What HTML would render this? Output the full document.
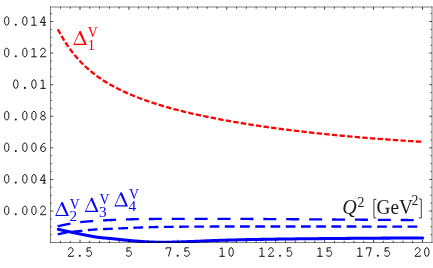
<!DOCTYPE html>
<html><head><meta charset="utf-8"><title>plot</title>
<style>html,body{margin:0;padding:0;background:#fff;overflow:hidden}body{width:433px;height:268px;position:relative}</style>
</head><body>
<svg width="433" height="268" viewBox="0 0 433 268" style="position:absolute;left:0;top:0;display:block;will-change:transform">
<rect x="0" y="0" width="433" height="268" fill="#fff"/>
<path d="M57.80,29.21 L59.02,31.49 L60.24,33.71 L61.46,35.86 L62.68,37.95 L63.90,39.97 L65.12,41.92 L66.34,43.81 L67.57,45.63 L68.79,47.40 L70.01,49.10 L71.23,50.75 L72.45,52.35 L73.67,53.90 L74.89,55.39 L76.11,56.84 L77.33,58.25 L78.55,59.61 L79.77,60.93 L80.99,62.21 L82.21,63.46 L83.43,64.67 L84.65,65.84 L85.88,66.98 L87.10,68.09 L88.32,69.17 L89.54,70.22 L90.76,71.24 L91.98,72.24 L93.20,73.21 L94.42,74.16 L95.64,75.08 L96.86,75.98 L98.08,76.86 L99.30,77.72 L100.52,78.56 L101.74,79.38 L102.96,80.18 L104.19,80.96 L105.41,81.73 L106.63,82.48 L107.85,83.22 L109.07,83.94 L110.29,84.64 L111.51,85.33 L112.73,86.01 L113.95,86.67 L115.17,87.32 L116.39,87.96 L117.61,88.59 L118.83,89.20 L120.05,89.80 L121.27,90.40 L122.50,90.98 L123.72,91.55 L124.94,92.12 L126.16,92.67 L127.38,93.21 L128.60,93.75 L129.82,94.27 L131.04,94.79 L132.26,95.30 L133.48,95.80 L134.70,96.30 L135.92,96.78 L137.14,97.26 L138.36,97.73 L139.59,98.20 L140.81,98.66 L142.03,99.11 L143.25,99.56 L144.47,100.00 L145.69,100.43 L146.91,100.86 L148.13,101.28 L149.35,101.69 L150.57,102.10 L151.79,102.51 L153.01,102.91 L154.23,103.31 L155.45,103.70 L156.67,104.08 L157.90,104.46 L159.12,104.84 L160.34,105.21 L161.56,105.58 L162.78,105.94 L164.00,106.30 L165.22,106.65 L166.44,107.00 L167.66,107.35 L168.88,107.69 L170.10,108.03 L171.32,108.37 L172.54,108.70 L173.76,109.03 L174.98,109.35 L176.21,109.67 L177.43,109.99 L178.65,110.30 L179.87,110.61 L181.09,110.92 L182.31,111.23 L183.53,111.53 L184.75,111.83 L185.97,112.12 L187.19,112.42 L188.41,112.71 L189.63,112.99 L190.85,113.28 L192.07,113.56 L193.29,113.84 L194.52,114.12 L195.74,114.39 L196.96,114.66 L198.18,114.93 L199.40,115.20 L200.62,115.46 L201.84,115.72 L203.06,115.98 L204.28,116.24 L205.50,116.50 L206.72,116.75 L207.94,117.00 L209.16,117.25 L210.38,117.50 L211.60,117.74 L212.83,117.98 L214.05,118.22 L215.27,118.46 L216.49,118.70 L217.71,118.93 L218.93,119.16 L220.15,119.39 L221.37,119.62 L222.59,119.85 L223.81,120.08 L225.03,120.30 L226.25,120.52 L227.47,120.74 L228.69,120.96 L229.91,121.18 L231.14,121.39 L232.36,121.60 L233.58,121.81 L234.80,122.02 L236.02,122.23 L237.24,122.44 L238.46,122.64 L239.68,122.85 L240.90,123.05 L242.12,123.25 L243.34,123.45 L244.56,123.65 L245.78,123.84 L247.00,124.04 L248.22,124.23 L249.45,124.42 L250.67,124.61 L251.89,124.80 L253.11,124.99 L254.33,125.18 L255.55,125.36 L256.77,125.55 L257.99,125.73 L259.21,125.91 L260.43,126.09 L261.65,126.27 L262.87,126.45 L264.09,126.62 L265.31,126.80 L266.53,126.97 L267.76,127.14 L268.98,127.32 L270.20,127.49 L271.42,127.66 L272.64,127.82 L273.86,127.99 L275.08,128.16 L276.30,128.32 L277.52,128.48 L278.74,128.65 L279.96,128.81 L281.18,128.97 L282.40,129.13 L283.62,129.28 L284.84,129.44 L286.07,129.60 L287.29,129.75 L288.51,129.91 L289.73,130.06 L290.95,130.21 L292.17,130.36 L293.39,130.51 L294.61,130.66 L295.83,130.81 L297.05,130.95 L298.27,131.10 L299.49,131.24 L300.71,131.39 L301.93,131.53 L303.16,131.67 L304.38,131.81 L305.60,131.95 L306.82,132.09 L308.04,132.23 L309.26,132.37 L310.48,132.50 L311.70,132.64 L312.92,132.77 L314.14,132.91 L315.36,133.04 L316.58,133.17 L317.80,133.30 L319.02,133.43 L320.24,133.56 L321.47,133.69 L322.69,133.82 L323.91,133.95 L325.13,134.07 L326.35,134.20 L327.57,134.32 L328.79,134.45 L330.01,134.57 L331.23,134.69 L332.45,134.81 L333.67,134.93 L334.89,135.05 L336.11,135.17 L337.33,135.29 L338.55,135.41 L339.78,135.53 L341.00,135.64 L342.22,135.76 L343.44,135.87 L344.66,135.98 L345.88,136.10 L347.10,136.21 L348.32,136.32 L349.54,136.43 L350.76,136.54 L351.98,136.65 L353.20,136.76 L354.42,136.87 L355.64,136.97 L356.86,137.08 L358.09,137.19 L359.31,137.29 L360.53,137.39 L361.75,137.50 L362.97,137.60 L364.19,137.70 L365.41,137.80 L366.63,137.91 L367.85,138.01 L369.07,138.11 L370.29,138.20 L371.51,138.30 L372.73,138.40 L373.95,138.50 L375.17,138.59 L376.40,138.69 L377.62,138.78 L378.84,138.88 L380.06,138.97 L381.28,139.06 L382.50,139.16 L383.72,139.25 L384.94,139.34 L386.16,139.43 L387.38,139.52 L388.60,139.61 L389.82,139.70 L391.04,139.79 L392.26,139.87 L393.48,139.96 L394.71,140.05 L395.93,140.13 L397.15,140.22 L398.37,140.30 L399.59,140.39 L400.81,140.47 L402.03,140.55 L403.25,140.63 L404.47,140.71 L405.69,140.80 L406.91,140.88 L408.13,140.96 L409.35,141.03 L410.57,141.11 L411.79,141.19 L413.02,141.27 L414.24,141.35 L415.46,141.42 L416.68,141.50 L417.90,141.57 L419.12,141.65 L420.34,141.72 L421.56,141.80 L422.78,141.87" fill="none" stroke="#ff0000" stroke-width="2.3" stroke-dasharray="5.4 2.25"/>
<path d="M57.70,226.30 L57.86,226.26 L58.04,226.22 L58.25,226.18 L58.47,226.12 L58.72,226.07 L58.99,226.01 L59.27,225.94 L59.56,225.87 L59.87,225.80 L60.18,225.73 L60.51,225.66 L60.84,225.58 L61.17,225.51 L61.51,225.43 L61.85,225.36 L62.19,225.28 L62.53,225.21 L62.86,225.14 L63.18,225.07 L63.50,225.00 L63.81,224.94 L64.12,224.87 L64.43,224.81 L64.74,224.74 L65.05,224.68 L65.36,224.62 L65.67,224.55 L65.98,224.49 L66.30,224.43 L66.62,224.36 L66.94,224.30 L67.28,224.23 L67.61,224.17 L67.96,224.10 L68.31,224.04 L68.67,223.97 L69.03,223.91 L69.41,223.84 L69.80,223.77 L70.20,223.70 L70.61,223.63 L71.02,223.56 L71.43,223.48 L71.86,223.41 L72.28,223.33 L72.72,223.26 L73.15,223.18 L73.60,223.10 L74.06,223.02 L74.52,222.94 L74.99,222.87 L75.47,222.79 L75.96,222.71 L76.46,222.63 L76.97,222.56 L77.49,222.48 L78.03,222.41 L78.57,222.34 L79.13,222.27 L79.70,222.20 L80.29,222.13 L80.88,222.07 L81.50,222.00 L82.12,221.94 L82.76,221.87 L83.41,221.81 L84.07,221.75 L84.74,221.68 L85.42,221.62 L86.11,221.56 L86.81,221.50 L87.51,221.44 L88.22,221.39 L88.94,221.33 L89.66,221.27 L90.38,221.22 L91.11,221.16 L91.84,221.11 L92.57,221.05 L93.30,221.00 L94.03,220.95 L94.76,220.90 L95.49,220.85 L96.22,220.80 L96.95,220.75 L97.69,220.70 L98.43,220.66 L99.17,220.61 L99.93,220.57 L100.69,220.53 L101.46,220.48 L102.24,220.44 L103.03,220.40 L103.83,220.35 L104.65,220.31 L105.49,220.27 L106.34,220.23 L107.21,220.18 L108.09,220.14 L109.00,220.10 L109.93,220.06 L110.87,220.01 L111.82,219.97 L112.80,219.93 L113.78,219.88 L114.78,219.84 L115.80,219.79 L116.83,219.75 L117.87,219.71 L118.92,219.67 L119.98,219.62 L121.06,219.58 L122.14,219.54 L123.24,219.50 L124.34,219.47 L125.46,219.43 L126.58,219.39 L127.71,219.36 L128.85,219.33 L130.00,219.30 L131.14,219.27 L132.25,219.25 L133.34,219.22 L134.42,219.20 L135.50,219.17 L136.58,219.15 L137.66,219.13 L138.75,219.11 L139.86,219.10 L141.00,219.08 L142.17,219.06 L143.37,219.05 L144.61,219.03 L145.90,219.02 L147.25,219.01 L148.66,218.99 L150.13,218.98 L151.67,218.97 L153.29,218.96 L155.00,218.95 L156.81,218.94 L158.74,218.93 L160.76,218.93 L162.88,218.92 L165.08,218.92 L167.34,218.91 L169.67,218.91 L172.04,218.91 L174.45,218.90 L176.88,218.90 L179.32,218.90 L181.76,218.90 L184.19,218.90 L186.60,218.90 L188.98,218.90 L191.32,218.90 L193.60,218.90 L195.81,218.90 L197.95,218.90 L200.00,218.90 L201.97,218.90 L203.88,218.90 L205.74,218.90 L207.56,218.89 L209.34,218.89 L211.08,218.89 L212.79,218.89 L214.48,218.89 L216.15,218.89 L217.81,218.88 L219.47,218.88 L221.12,218.88 L222.78,218.88 L224.45,218.88 L226.13,218.88 L227.84,218.89 L229.57,218.89 L231.34,218.89 L233.15,218.90 L235.00,218.90 L236.89,218.91 L238.80,218.91 L240.73,218.92 L242.68,218.93 L244.65,218.93 L246.63,218.94 L248.63,218.95 L250.64,218.96 L252.66,218.97 L254.69,218.98 L256.72,218.99 L258.76,219.00 L260.80,219.01 L262.84,219.03 L264.88,219.04 L266.92,219.05 L268.95,219.06 L270.98,219.08 L272.99,219.09 L275.00,219.10 L276.99,219.11 L278.98,219.13 L280.95,219.14 L282.92,219.15 L284.88,219.17 L286.84,219.18 L288.80,219.20 L290.76,219.21 L292.72,219.23 L294.69,219.24 L296.66,219.26 L298.64,219.28 L300.63,219.29 L302.63,219.31 L304.65,219.32 L306.68,219.34 L308.73,219.35 L310.80,219.37 L312.89,219.38 L315.00,219.40 L317.14,219.41 L319.32,219.43 L321.53,219.44 L323.76,219.46 L326.02,219.47 L328.29,219.49 L330.58,219.50 L332.88,219.52 L335.19,219.53 L337.50,219.55 L339.81,219.56 L342.12,219.58 L344.42,219.60 L346.71,219.61 L348.98,219.63 L351.24,219.64 L353.47,219.66 L355.68,219.67 L357.86,219.69 L360.00,219.70 L362.13,219.72 L364.28,219.73 L366.43,219.75 L368.59,219.76 L370.75,219.78 L372.90,219.80 L375.05,219.81 L377.18,219.83 L379.29,219.85 L381.38,219.86 L383.44,219.88 L385.46,219.89 L387.46,219.91 L389.41,219.92 L391.31,219.94 L393.17,219.95 L394.97,219.97 L396.71,219.98 L398.39,219.99 L400.00,220.00 L401.56,220.01 L403.09,220.02 L404.59,220.03 L406.06,220.03 L407.48,220.04 L408.87,220.05 L410.22,220.05 L411.53,220.06 L412.79,220.06 L414.00,220.07 L415.16,220.07 L416.27,220.08 L417.33,220.08 L418.33,220.08 L419.27,220.09 L420.14,220.09 L420.96,220.09 L421.71,220.09 L422.39,220.10 L423.00,220.10" fill="none" stroke="#0000ff" stroke-width="2.35" stroke-dasharray="13 9.9"/>
<path d="M57.70,234.30 L57.93,234.25 L58.20,234.20 L58.51,234.13 L58.85,234.06 L59.23,233.98 L59.63,233.89 L60.05,233.80 L60.49,233.70 L60.95,233.61 L61.43,233.51 L61.90,233.41 L62.39,233.30 L62.88,233.20 L63.36,233.10 L63.84,233.01 L64.30,232.92 L64.76,232.83 L65.19,232.75 L65.61,232.67 L66.00,232.60 L66.37,232.54 L66.73,232.48 L67.08,232.42 L67.42,232.37 L67.76,232.32 L68.08,232.27 L68.41,232.22 L68.73,232.18 L69.05,232.14 L69.36,232.10 L69.68,232.06 L70.00,232.02 L70.32,231.98 L70.65,231.94 L70.99,231.90 L71.33,231.86 L71.68,231.82 L72.04,231.78 L72.41,231.74 L72.80,231.70 L73.20,231.66 L73.62,231.61 L74.05,231.57 L74.49,231.53 L74.94,231.48 L75.40,231.44 L75.86,231.39 L76.33,231.35 L76.81,231.31 L77.28,231.27 L77.76,231.22 L78.23,231.18 L78.69,231.14 L79.15,231.10 L79.61,231.05 L80.05,231.01 L80.49,230.97 L80.91,230.93 L81.31,230.89 L81.70,230.85 L82.07,230.81 L82.43,230.77 L82.77,230.73 L83.10,230.69 L83.42,230.65 L83.73,230.61 L84.03,230.58 L84.33,230.54 L84.62,230.50 L84.91,230.46 L85.19,230.43 L85.48,230.39 L85.77,230.35 L86.07,230.31 L86.37,230.28 L86.67,230.24 L86.99,230.21 L87.31,230.17 L87.65,230.14 L88.00,230.10 L88.36,230.07 L88.71,230.03 L89.07,230.00 L89.43,229.96 L89.79,229.93 L90.15,229.89 L90.52,229.86 L90.89,229.83 L91.26,229.80 L91.64,229.76 L92.03,229.73 L92.43,229.70 L92.84,229.67 L93.25,229.63 L93.68,229.60 L94.12,229.57 L94.57,229.54 L95.03,229.51 L95.51,229.48 L96.00,229.45 L96.51,229.42 L97.02,229.39 L97.55,229.36 L98.10,229.34 L98.65,229.31 L99.21,229.28 L99.78,229.25 L100.37,229.23 L100.96,229.20 L101.56,229.17 L102.17,229.15 L102.79,229.12 L103.42,229.10 L104.05,229.07 L104.70,229.04 L105.34,229.01 L106.00,228.99 L106.66,228.96 L107.33,228.93 L108.00,228.90 L108.69,228.87 L109.40,228.84 L110.13,228.81 L110.87,228.77 L111.63,228.74 L112.41,228.71 L113.19,228.67 L113.98,228.64 L114.77,228.61 L115.56,228.57 L116.36,228.54 L117.14,228.50 L117.93,228.47 L118.70,228.44 L119.46,228.40 L120.21,228.37 L120.94,228.34 L121.65,228.31 L122.34,228.28 L123.00,228.25 L123.63,228.22 L124.23,228.19 L124.79,228.17 L125.33,228.14 L125.84,228.12 L126.34,228.09 L126.83,228.07 L127.30,228.05 L127.78,228.02 L128.25,228.00 L128.73,227.98 L129.22,227.95 L129.72,227.93 L130.24,227.91 L130.78,227.88 L131.35,227.86 L131.95,227.83 L132.59,227.81 L133.27,227.78 L134.00,227.75 L134.78,227.72 L135.60,227.69 L136.47,227.66 L137.38,227.62 L138.33,227.59 L139.30,227.55 L140.30,227.52 L141.31,227.48 L142.34,227.45 L143.38,227.41 L144.41,227.37 L145.45,227.34 L146.48,227.30 L147.49,227.27 L148.48,227.24 L149.46,227.21 L150.40,227.18 L151.31,227.15 L152.18,227.12 L153.00,227.10 L153.76,227.08 L154.45,227.06 L155.07,227.04 L155.65,227.02 L156.18,227.01 L156.68,227.00 L157.16,226.98 L157.62,226.97 L158.09,226.96 L158.56,226.95 L159.05,226.94 L159.58,226.93 L160.14,226.92 L160.75,226.91 L161.41,226.90 L162.15,226.89 L162.97,226.88 L163.88,226.87 L164.88,226.86 L166.00,226.85 L167.23,226.84 L168.55,226.82 L169.95,226.81 L171.44,226.80 L173.00,226.78 L174.62,226.77 L176.31,226.76 L178.04,226.74 L179.81,226.73 L181.62,226.72 L183.46,226.70 L185.32,226.69 L187.19,226.68 L189.06,226.66 L190.94,226.65 L192.80,226.64 L194.64,226.63 L196.47,226.62 L198.25,226.61 L200.00,226.60 L201.67,226.59 L203.26,226.58 L204.77,226.58 L206.22,226.57 L207.62,226.56 L209.01,226.56 L210.38,226.55 L211.77,226.54 L213.18,226.54 L214.62,226.53 L216.13,226.53 L217.71,226.53 L219.38,226.52 L221.16,226.52 L223.06,226.51 L225.10,226.51 L227.30,226.51 L229.67,226.51 L232.23,226.50 L235.00,226.50 L237.98,226.50 L241.16,226.50 L244.51,226.49 L248.04,226.49 L251.72,226.49 L255.53,226.49 L259.47,226.49 L263.52,226.49 L267.66,226.49 L271.88,226.49 L276.15,226.49 L280.48,226.49 L284.84,226.49 L289.21,226.49 L293.59,226.49 L297.96,226.49 L302.30,226.49 L306.60,226.50 L310.83,226.50 L315.00,226.50 L319.21,226.50 L323.58,226.51 L328.08,226.51 L332.68,226.52 L337.37,226.52 L342.10,226.53 L346.87,226.53 L351.64,226.54 L356.40,226.54 L361.10,226.55 L365.73,226.56 L370.27,226.56 L374.68,226.57 L378.94,226.57 L383.03,226.58 L386.93,226.58 L390.59,226.59 L394.01,226.59 L397.16,226.60 L400.00,226.60 L402.56,226.60 L404.88,226.60 L406.97,226.61 L408.84,226.61 L410.53,226.61 L412.03,226.61 L413.36,226.61 L414.54,226.61 L415.59,226.61 L416.51,226.61 L417.33,226.61 L418.06,226.60 L418.71,226.60 L419.30,226.60 L419.84,226.60 L420.36,226.60 L420.85,226.60 L421.35,226.60 L421.86,226.60 L422.40,226.60" fill="none" stroke="#0000ff" stroke-width="2.35" stroke-dasharray="9.7 5.53"/>
<clipPath id="cp"><rect x="0" y="0" width="433" height="243.1"/></clipPath>
<path d="M58.30,229.30 L58.48,229.34 L58.69,229.39 L58.93,229.45 L59.19,229.51 L59.48,229.58 L59.78,229.65 L60.11,229.72 L60.44,229.80 L60.80,229.89 L61.16,229.97 L61.54,230.06 L61.92,230.15 L62.31,230.24 L62.70,230.33 L63.09,230.42 L63.48,230.51 L63.87,230.60 L64.26,230.68 L64.63,230.77 L65.00,230.85 L65.36,230.93 L65.71,231.01 L66.05,231.08 L66.39,231.16 L66.73,231.23 L67.07,231.30 L67.41,231.37 L67.75,231.45 L68.10,231.52 L68.46,231.60 L68.82,231.67 L69.20,231.75 L69.58,231.83 L69.98,231.92 L70.40,232.00 L70.84,232.09 L71.29,232.19 L71.77,232.29 L72.27,232.39 L72.80,232.50 L73.36,232.62 L73.97,232.74 L74.61,232.87 L75.28,233.01 L75.98,233.15 L76.70,233.30 L77.44,233.45 L78.20,233.60 L78.96,233.76 L79.72,233.92 L80.49,234.07 L81.25,234.23 L82.00,234.38 L82.74,234.53 L83.46,234.67 L84.15,234.81 L84.82,234.94 L85.45,235.07 L86.05,235.19 L86.60,235.30 L87.12,235.40 L87.60,235.50 L88.07,235.59 L88.50,235.68 L88.92,235.76 L89.32,235.84 L89.70,235.91 L90.06,235.98 L90.42,236.05 L90.76,236.12 L91.09,236.18 L91.41,236.24 L91.73,236.30 L92.05,236.36 L92.36,236.42 L92.68,236.47 L93.00,236.53 L93.33,236.59 L93.66,236.64 L94.00,236.70 L94.34,236.76 L94.66,236.81 L94.97,236.86 L95.27,236.91 L95.56,236.96 L95.84,237.00 L96.12,237.04 L96.40,237.09 L96.68,237.13 L96.96,237.17 L97.25,237.21 L97.55,237.25 L97.85,237.29 L98.17,237.33 L98.51,237.37 L98.86,237.42 L99.24,237.46 L99.63,237.50 L100.05,237.55 L100.50,237.60 L100.98,237.65 L101.49,237.70 L102.03,237.76 L102.59,237.81 L103.18,237.86 L103.78,237.92 L104.40,237.97 L105.04,238.03 L105.68,238.09 L106.33,238.14 L106.98,238.20 L107.64,238.26 L108.29,238.31 L108.93,238.37 L109.57,238.43 L110.19,238.48 L110.80,238.54 L111.39,238.59 L111.96,238.65 L112.50,238.70 L113.02,238.75 L113.52,238.80 L114.00,238.85 L114.47,238.90 L114.92,238.95 L115.37,239.00 L115.80,239.05 L116.23,239.10 L116.66,239.15 L117.08,239.19 L117.50,239.24 L117.93,239.29 L118.36,239.34 L118.80,239.39 L119.25,239.44 L119.71,239.49 L120.18,239.54 L120.67,239.59 L121.17,239.65 L121.70,239.70 L122.25,239.76 L122.81,239.81 L123.39,239.87 L123.98,239.93 L124.59,240.00 L125.20,240.06 L125.83,240.12 L126.46,240.18 L127.10,240.25 L127.74,240.31 L128.38,240.38 L129.02,240.44 L129.67,240.50 L130.31,240.56 L130.94,240.62 L131.57,240.68 L132.20,240.74 L132.81,240.80 L133.41,240.85 L134.00,240.90 L134.58,240.95 L135.15,241.00 L135.71,241.04 L136.27,241.09 L136.82,241.14 L137.36,241.18 L137.91,241.22 L138.45,241.26 L138.98,241.30 L139.52,241.34 L140.05,241.38 L140.59,241.42 L141.13,241.46 L141.67,241.49 L142.21,241.53 L142.76,241.57 L143.31,241.60 L143.87,241.63 L144.43,241.67 L145.00,241.70 L145.57,241.73 L146.14,241.76 L146.70,241.80 L147.26,241.83 L147.81,241.86 L148.37,241.89 L148.93,241.92 L149.49,241.95 L150.05,241.98 L150.62,242.01 L151.20,242.03 L151.79,242.06 L152.39,242.08 L153.00,242.10 L153.62,242.12 L154.26,242.14 L154.92,242.16 L155.59,242.18 L156.29,242.19 L157.00,242.20 L157.73,242.21 L158.48,242.22 L159.25,242.22 L160.03,242.23 L160.83,242.23 L161.64,242.23 L162.46,242.23 L163.30,242.23 L164.14,242.23 L165.00,242.22 L165.87,242.22 L166.74,242.21 L167.63,242.20 L168.52,242.19 L169.42,242.18 L170.33,242.17 L171.24,242.15 L172.16,242.14 L173.08,242.12 L174.00,242.10 L174.93,242.08 L175.88,242.05 L176.84,242.03 L177.81,242.00 L178.79,241.97 L179.78,241.94 L180.78,241.91 L181.78,241.87 L182.80,241.83 L183.81,241.80 L184.83,241.76 L185.86,241.72 L186.88,241.68 L187.91,241.64 L188.93,241.60 L189.95,241.56 L190.97,241.52 L191.99,241.48 L193.00,241.44 L194.00,241.40 L195.00,241.36 L196.00,241.32 L197.00,241.28 L198.00,241.24 L199.00,241.19 L200.00,241.15 L201.00,241.10 L202.00,241.06 L203.00,241.01 L204.00,240.97 L205.00,240.92 L206.00,240.88 L207.00,240.83 L208.00,240.79 L209.00,240.75 L210.00,240.71 L211.00,240.67 L212.00,240.63 L213.00,240.59 L214.00,240.55 L215.00,240.51 L216.00,240.48 L217.00,240.45 L218.00,240.41 L219.00,240.38 L220.00,240.35 L221.00,240.32 L222.00,240.28 L223.00,240.25 L224.00,240.22 L225.00,240.20 L226.00,240.17 L227.00,240.14 L228.00,240.11 L229.00,240.08 L230.00,240.06 L231.00,240.03 L232.00,240.00 L233.00,239.98 L234.00,239.95 L234.98,239.92 L235.91,239.90 L236.81,239.88 L237.68,239.85 L238.53,239.83 L239.37,239.81 L240.20,239.79 L241.04,239.77 L241.89,239.75 L242.75,239.72 L243.64,239.70 L244.56,239.68 L245.52,239.66 L246.53,239.64 L247.59,239.62 L248.72,239.60 L249.92,239.57 L251.19,239.55 L252.55,239.53 L254.00,239.50 L255.55,239.47 L257.19,239.45 L258.92,239.42 L260.72,239.39 L262.59,239.36 L264.53,239.32 L266.52,239.29 L268.56,239.26 L270.64,239.23 L272.75,239.20 L274.89,239.16 L277.04,239.13 L279.20,239.10 L281.37,239.07 L283.53,239.04 L285.68,239.01 L287.81,238.98 L289.91,238.95 L291.98,238.93 L294.00,238.90 L295.99,238.88 L297.97,238.85 L299.94,238.83 L301.90,238.81 L303.86,238.78 L305.81,238.76 L307.76,238.74 L309.71,238.72 L311.67,238.70 L313.62,238.68 L315.59,238.67 L317.57,238.65 L319.56,238.63 L321.56,238.61 L323.58,238.59 L325.62,238.57 L327.67,238.56 L329.76,238.54 L331.86,238.52 L334.00,238.50 L336.17,238.48 L338.37,238.46 L340.61,238.44 L342.87,238.42 L345.16,238.41 L347.47,238.39 L349.79,238.37 L352.13,238.35 L354.48,238.33 L356.84,238.31 L359.20,238.29 L361.56,238.28 L363.91,238.26 L366.26,238.24 L368.60,238.23 L370.92,238.21 L373.23,238.19 L375.51,238.18 L377.77,238.16 L380.00,238.15 L382.26,238.14 L384.59,238.12 L386.98,238.11 L389.42,238.10 L391.89,238.08 L394.37,238.07 L396.86,238.06 L399.33,238.05 L401.77,238.04 L404.18,238.03 L406.52,238.02 L408.79,238.01 L410.98,238.00 L413.06,237.99 L415.03,237.98 L416.86,237.97 L418.55,237.97 L420.08,237.96 L421.44,237.96 L422.60,237.95" fill="none" stroke="#0000ff" stroke-width="3.05" stroke-linecap="round" clip-path="url(#cp)"/>
<g stroke="#000" stroke-width="0.5" fill="none">
<line x1="50.5" y1="6.5" x2="50.5" y2="243.0"/>
<line x1="432.0" y1="6.5" x2="432.0" y2="243.0"/>
<line x1="50.0" y1="7.0" x2="432.5" y2="7.0"/>
<line x1="50.0" y1="242.5" x2="432.5" y2="242.5"/>
</g>
<g stroke="#000" stroke-width="0.75" fill="none">
<line x1="60.43" y1="242.5" x2="60.43" y2="240.80"/>
<line x1="60.43" y1="7.0" x2="60.43" y2="8.70"/>
<line x1="70.22" y1="242.5" x2="70.22" y2="240.80"/>
<line x1="70.22" y1="7.0" x2="70.22" y2="8.70"/>
<line x1="80.00" y1="242.5" x2="80.00" y2="239.70"/>
<line x1="80.00" y1="7.0" x2="80.00" y2="9.80"/>
<line x1="89.78" y1="242.5" x2="89.78" y2="240.80"/>
<line x1="89.78" y1="7.0" x2="89.78" y2="8.70"/>
<line x1="99.57" y1="242.5" x2="99.57" y2="240.80"/>
<line x1="99.57" y1="7.0" x2="99.57" y2="8.70"/>
<line x1="109.36" y1="242.5" x2="109.36" y2="240.80"/>
<line x1="109.36" y1="7.0" x2="109.36" y2="8.70"/>
<line x1="119.14" y1="242.5" x2="119.14" y2="240.80"/>
<line x1="119.14" y1="7.0" x2="119.14" y2="8.70"/>
<line x1="128.93" y1="242.5" x2="128.93" y2="239.70"/>
<line x1="128.93" y1="7.0" x2="128.93" y2="9.80"/>
<line x1="138.71" y1="242.5" x2="138.71" y2="240.80"/>
<line x1="138.71" y1="7.0" x2="138.71" y2="8.70"/>
<line x1="148.50" y1="242.5" x2="148.50" y2="240.80"/>
<line x1="148.50" y1="7.0" x2="148.50" y2="8.70"/>
<line x1="158.28" y1="242.5" x2="158.28" y2="240.80"/>
<line x1="158.28" y1="7.0" x2="158.28" y2="8.70"/>
<line x1="168.06" y1="242.5" x2="168.06" y2="240.80"/>
<line x1="168.06" y1="7.0" x2="168.06" y2="8.70"/>
<line x1="177.85" y1="242.5" x2="177.85" y2="239.70"/>
<line x1="177.85" y1="7.0" x2="177.85" y2="9.80"/>
<line x1="187.63" y1="242.5" x2="187.63" y2="240.80"/>
<line x1="187.63" y1="7.0" x2="187.63" y2="8.70"/>
<line x1="197.42" y1="242.5" x2="197.42" y2="240.80"/>
<line x1="197.42" y1="7.0" x2="197.42" y2="8.70"/>
<line x1="207.20" y1="242.5" x2="207.20" y2="240.80"/>
<line x1="207.20" y1="7.0" x2="207.20" y2="8.70"/>
<line x1="216.99" y1="242.5" x2="216.99" y2="240.80"/>
<line x1="216.99" y1="7.0" x2="216.99" y2="8.70"/>
<line x1="226.78" y1="242.5" x2="226.78" y2="239.70"/>
<line x1="226.78" y1="7.0" x2="226.78" y2="9.80"/>
<line x1="236.56" y1="242.5" x2="236.56" y2="240.80"/>
<line x1="236.56" y1="7.0" x2="236.56" y2="8.70"/>
<line x1="246.34" y1="242.5" x2="246.34" y2="240.80"/>
<line x1="246.34" y1="7.0" x2="246.34" y2="8.70"/>
<line x1="256.13" y1="242.5" x2="256.13" y2="240.80"/>
<line x1="256.13" y1="7.0" x2="256.13" y2="8.70"/>
<line x1="265.91" y1="242.5" x2="265.91" y2="240.80"/>
<line x1="265.91" y1="7.0" x2="265.91" y2="8.70"/>
<line x1="275.70" y1="242.5" x2="275.70" y2="239.70"/>
<line x1="275.70" y1="7.0" x2="275.70" y2="9.80"/>
<line x1="285.49" y1="242.5" x2="285.49" y2="240.80"/>
<line x1="285.49" y1="7.0" x2="285.49" y2="8.70"/>
<line x1="295.27" y1="242.5" x2="295.27" y2="240.80"/>
<line x1="295.27" y1="7.0" x2="295.27" y2="8.70"/>
<line x1="305.06" y1="242.5" x2="305.06" y2="240.80"/>
<line x1="305.06" y1="7.0" x2="305.06" y2="8.70"/>
<line x1="314.84" y1="242.5" x2="314.84" y2="240.80"/>
<line x1="314.84" y1="7.0" x2="314.84" y2="8.70"/>
<line x1="324.62" y1="242.5" x2="324.62" y2="239.70"/>
<line x1="324.62" y1="7.0" x2="324.62" y2="9.80"/>
<line x1="334.41" y1="242.5" x2="334.41" y2="240.80"/>
<line x1="334.41" y1="7.0" x2="334.41" y2="8.70"/>
<line x1="344.19" y1="242.5" x2="344.19" y2="240.80"/>
<line x1="344.19" y1="7.0" x2="344.19" y2="8.70"/>
<line x1="353.98" y1="242.5" x2="353.98" y2="240.80"/>
<line x1="353.98" y1="7.0" x2="353.98" y2="8.70"/>
<line x1="363.76" y1="242.5" x2="363.76" y2="240.80"/>
<line x1="363.76" y1="7.0" x2="363.76" y2="8.70"/>
<line x1="373.55" y1="242.5" x2="373.55" y2="239.70"/>
<line x1="373.55" y1="7.0" x2="373.55" y2="9.80"/>
<line x1="383.33" y1="242.5" x2="383.33" y2="240.80"/>
<line x1="383.33" y1="7.0" x2="383.33" y2="8.70"/>
<line x1="393.12" y1="242.5" x2="393.12" y2="240.80"/>
<line x1="393.12" y1="7.0" x2="393.12" y2="8.70"/>
<line x1="402.91" y1="242.5" x2="402.91" y2="240.80"/>
<line x1="402.91" y1="7.0" x2="402.91" y2="8.70"/>
<line x1="412.69" y1="242.5" x2="412.69" y2="240.80"/>
<line x1="412.69" y1="7.0" x2="412.69" y2="8.70"/>
<line x1="422.48" y1="242.5" x2="422.48" y2="239.70"/>
<line x1="422.48" y1="7.0" x2="422.48" y2="9.80"/>
<line x1="50.5" y1="234.69" x2="52.20" y2="234.69" stroke-width="0.55"/>
<line x1="432.0" y1="234.69" x2="430.30" y2="234.69" stroke-width="0.55"/>
<line x1="50.5" y1="226.79" x2="52.20" y2="226.79" stroke-width="0.55"/>
<line x1="432.0" y1="226.79" x2="430.30" y2="226.79" stroke-width="0.55"/>
<line x1="50.5" y1="218.90" x2="52.20" y2="218.90" stroke-width="0.55"/>
<line x1="432.0" y1="218.90" x2="430.30" y2="218.90" stroke-width="0.55"/>
<line x1="50.5" y1="211.00" x2="53.30" y2="211.00" stroke-width="0.7"/>
<line x1="432.0" y1="211.00" x2="429.20" y2="211.00" stroke-width="0.7"/>
<line x1="50.5" y1="203.10" x2="52.20" y2="203.10" stroke-width="0.55"/>
<line x1="432.0" y1="203.10" x2="430.30" y2="203.10" stroke-width="0.55"/>
<line x1="50.5" y1="195.21" x2="52.20" y2="195.21" stroke-width="0.55"/>
<line x1="432.0" y1="195.21" x2="430.30" y2="195.21" stroke-width="0.55"/>
<line x1="50.5" y1="187.31" x2="52.20" y2="187.31" stroke-width="0.55"/>
<line x1="432.0" y1="187.31" x2="430.30" y2="187.31" stroke-width="0.55"/>
<line x1="50.5" y1="179.42" x2="53.30" y2="179.42" stroke-width="0.7"/>
<line x1="432.0" y1="179.42" x2="429.20" y2="179.42" stroke-width="0.7"/>
<line x1="50.5" y1="171.53" x2="52.20" y2="171.53" stroke-width="0.55"/>
<line x1="432.0" y1="171.53" x2="430.30" y2="171.53" stroke-width="0.55"/>
<line x1="50.5" y1="163.63" x2="52.20" y2="163.63" stroke-width="0.55"/>
<line x1="432.0" y1="163.63" x2="430.30" y2="163.63" stroke-width="0.55"/>
<line x1="50.5" y1="155.74" x2="52.20" y2="155.74" stroke-width="0.55"/>
<line x1="432.0" y1="155.74" x2="430.30" y2="155.74" stroke-width="0.55"/>
<line x1="50.5" y1="147.84" x2="53.30" y2="147.84" stroke-width="0.7"/>
<line x1="432.0" y1="147.84" x2="429.20" y2="147.84" stroke-width="0.7"/>
<line x1="50.5" y1="139.94" x2="52.20" y2="139.94" stroke-width="0.55"/>
<line x1="432.0" y1="139.94" x2="430.30" y2="139.94" stroke-width="0.55"/>
<line x1="50.5" y1="132.05" x2="52.20" y2="132.05" stroke-width="0.55"/>
<line x1="432.0" y1="132.05" x2="430.30" y2="132.05" stroke-width="0.55"/>
<line x1="50.5" y1="124.16" x2="52.20" y2="124.16" stroke-width="0.55"/>
<line x1="432.0" y1="124.16" x2="430.30" y2="124.16" stroke-width="0.55"/>
<line x1="50.5" y1="116.26" x2="53.30" y2="116.26" stroke-width="0.7"/>
<line x1="432.0" y1="116.26" x2="429.20" y2="116.26" stroke-width="0.7"/>
<line x1="50.5" y1="108.37" x2="52.20" y2="108.37" stroke-width="0.55"/>
<line x1="432.0" y1="108.37" x2="430.30" y2="108.37" stroke-width="0.55"/>
<line x1="50.5" y1="100.47" x2="52.20" y2="100.47" stroke-width="0.55"/>
<line x1="432.0" y1="100.47" x2="430.30" y2="100.47" stroke-width="0.55"/>
<line x1="50.5" y1="92.58" x2="52.20" y2="92.58" stroke-width="0.55"/>
<line x1="432.0" y1="92.58" x2="430.30" y2="92.58" stroke-width="0.55"/>
<line x1="50.5" y1="84.68" x2="53.30" y2="84.68" stroke-width="0.7"/>
<line x1="432.0" y1="84.68" x2="429.20" y2="84.68" stroke-width="0.7"/>
<line x1="50.5" y1="76.78" x2="52.20" y2="76.78" stroke-width="0.55"/>
<line x1="432.0" y1="76.78" x2="430.30" y2="76.78" stroke-width="0.55"/>
<line x1="50.5" y1="68.89" x2="52.20" y2="68.89" stroke-width="0.55"/>
<line x1="432.0" y1="68.89" x2="430.30" y2="68.89" stroke-width="0.55"/>
<line x1="50.5" y1="61.00" x2="52.20" y2="61.00" stroke-width="0.55"/>
<line x1="432.0" y1="61.00" x2="430.30" y2="61.00" stroke-width="0.55"/>
<line x1="50.5" y1="53.10" x2="53.30" y2="53.10" stroke-width="0.7"/>
<line x1="432.0" y1="53.10" x2="429.20" y2="53.10" stroke-width="0.7"/>
<line x1="50.5" y1="45.21" x2="52.20" y2="45.21" stroke-width="0.55"/>
<line x1="432.0" y1="45.21" x2="430.30" y2="45.21" stroke-width="0.55"/>
<line x1="50.5" y1="37.31" x2="52.20" y2="37.31" stroke-width="0.55"/>
<line x1="432.0" y1="37.31" x2="430.30" y2="37.31" stroke-width="0.55"/>
<line x1="50.5" y1="29.42" x2="52.20" y2="29.42" stroke-width="0.55"/>
<line x1="432.0" y1="29.42" x2="430.30" y2="29.42" stroke-width="0.55"/>
<line x1="50.5" y1="21.52" x2="53.30" y2="21.52" stroke-width="0.7"/>
<line x1="432.0" y1="21.52" x2="429.20" y2="21.52" stroke-width="0.7"/>
<line x1="50.5" y1="13.62" x2="52.20" y2="13.62" stroke-width="0.55"/>
<line x1="432.0" y1="13.62" x2="430.30" y2="13.62" stroke-width="0.55"/>
</g>
<g fill="none" stroke="#111" stroke-width="1" stroke-linejoin="round" stroke-linecap="butt">
<path transform="translate(70.73,256.80)" d="M-2.4,-6.7 C-2.4,-8.1 -1.4,-9.1 0,-9.1 C1.4,-9.1 2.3,-8.1 2.3,-6.8 C2.3,-5.6 1.5,-4.8 0.3,-3.7 L-2.6,-0.9 L-2.6,-0.5 L2.7,-0.5 L2.7,-1.4"/><circle cx="79.80" cy="255.80" r="1.05" fill="#111" stroke="none"/><path transform="translate(88.87,256.80)" d="M2.1,-9.0 L-1.7,-9.0 L-1.9,-5.2 C-1.2,-5.8 -0.4,-6.1 0.4,-6.1 C1.8,-6.1 2.7,-4.9 2.7,-3.3 C2.7,-1.6 1.6,-0.5 0.1,-0.5 C-1.0,-0.5 -2.0,-0.9 -2.6,-1.7"/>
<path transform="translate(128.73,256.80)" d="M2.1,-9.0 L-1.7,-9.0 L-1.9,-5.2 C-1.2,-5.8 -0.4,-6.1 0.4,-6.1 C1.8,-6.1 2.7,-4.9 2.7,-3.3 C2.7,-1.6 1.6,-0.5 0.1,-0.5 C-1.0,-0.5 -2.0,-0.9 -2.6,-1.7"/>
<path transform="translate(168.58,256.80)" d="M-2.5,-7.4 L-2.5,-9.0 L2.4,-9.0 L-0.1,-0.4"/><circle cx="177.65" cy="255.80" r="1.05" fill="#111" stroke="none"/><path transform="translate(186.72,256.80)" d="M2.1,-9.0 L-1.7,-9.0 L-1.9,-5.2 C-1.2,-5.8 -0.4,-6.1 0.4,-6.1 C1.8,-6.1 2.7,-4.9 2.7,-3.3 C2.7,-1.6 1.6,-0.5 0.1,-0.5 C-1.0,-0.5 -2.0,-0.9 -2.6,-1.7"/>
<path transform="translate(222.04,256.80)" d="M-2.3,-7.9 L0.1,-9.0 L0.1,-0.5 M-2.6,-0.5 L2.8,-0.5"/><path transform="translate(231.11,256.80)" d="M0,-9.1 C1.5,-9.1 2.2,-7.0 2.2,-4.8 C2.2,-2.6 1.5,-0.5 0,-0.5 C-1.5,-0.5 -2.2,-2.6 -2.2,-4.8 C-2.2,-7.0 -1.5,-9.1 0,-9.1 Z"/>
<path transform="translate(261.89,256.80)" d="M-2.3,-7.9 L0.1,-9.0 L0.1,-0.5 M-2.6,-0.5 L2.8,-0.5"/><path transform="translate(270.96,256.80)" d="M-2.4,-6.7 C-2.4,-8.1 -1.4,-9.1 0,-9.1 C1.4,-9.1 2.3,-8.1 2.3,-6.8 C2.3,-5.6 1.5,-4.8 0.3,-3.7 L-2.6,-0.9 L-2.6,-0.5 L2.7,-0.5 L2.7,-1.4"/><circle cx="280.03" cy="255.80" r="1.05" fill="#111" stroke="none"/><path transform="translate(289.10,256.80)" d="M2.1,-9.0 L-1.7,-9.0 L-1.9,-5.2 C-1.2,-5.8 -0.4,-6.1 0.4,-6.1 C1.8,-6.1 2.7,-4.9 2.7,-3.3 C2.7,-1.6 1.6,-0.5 0.1,-0.5 C-1.0,-0.5 -2.0,-0.9 -2.6,-1.7"/>
<path transform="translate(319.89,256.80)" d="M-2.3,-7.9 L0.1,-9.0 L0.1,-0.5 M-2.6,-0.5 L2.8,-0.5"/><path transform="translate(328.96,256.80)" d="M2.1,-9.0 L-1.7,-9.0 L-1.9,-5.2 C-1.2,-5.8 -0.4,-6.1 0.4,-6.1 C1.8,-6.1 2.7,-4.9 2.7,-3.3 C2.7,-1.6 1.6,-0.5 0.1,-0.5 C-1.0,-0.5 -2.0,-0.9 -2.6,-1.7"/>
<path transform="translate(359.75,256.80)" d="M-2.3,-7.9 L0.1,-9.0 L0.1,-0.5 M-2.6,-0.5 L2.8,-0.5"/><path transform="translate(368.81,256.80)" d="M-2.5,-7.4 L-2.5,-9.0 L2.4,-9.0 L-0.1,-0.4"/><circle cx="377.88" cy="255.80" r="1.05" fill="#111" stroke="none"/><path transform="translate(386.95,256.80)" d="M2.1,-9.0 L-1.7,-9.0 L-1.9,-5.2 C-1.2,-5.8 -0.4,-6.1 0.4,-6.1 C1.8,-6.1 2.7,-4.9 2.7,-3.3 C2.7,-1.6 1.6,-0.5 0.1,-0.5 C-1.0,-0.5 -2.0,-0.9 -2.6,-1.7"/>
<path transform="translate(417.74,256.80)" d="M-2.4,-6.7 C-2.4,-8.1 -1.4,-9.1 0,-9.1 C1.4,-9.1 2.3,-8.1 2.3,-6.8 C2.3,-5.6 1.5,-4.8 0.3,-3.7 L-2.6,-0.9 L-2.6,-0.5 L2.7,-0.5 L2.7,-1.4"/><path transform="translate(426.81,256.80)" d="M0,-9.1 C1.5,-9.1 2.2,-7.0 2.2,-4.8 C2.2,-2.6 1.5,-0.5 0,-0.5 C-1.5,-0.5 -2.2,-2.6 -2.2,-4.8 C-2.2,-7.0 -1.5,-9.1 0,-9.1 Z"/>
<path transform="translate(6.72,25.72)" d="M0,-9.1 C1.5,-9.1 2.2,-7.0 2.2,-4.8 C2.2,-2.6 1.5,-0.5 0,-0.5 C-1.5,-0.5 -2.2,-2.6 -2.2,-4.8 C-2.2,-7.0 -1.5,-9.1 0,-9.1 Z"/><circle cx="15.79" cy="24.72" r="1.05" fill="#111" stroke="none"/><path transform="translate(24.86,25.72)" d="M0,-9.1 C1.5,-9.1 2.2,-7.0 2.2,-4.8 C2.2,-2.6 1.5,-0.5 0,-0.5 C-1.5,-0.5 -2.2,-2.6 -2.2,-4.8 C-2.2,-7.0 -1.5,-9.1 0,-9.1 Z"/><path transform="translate(33.93,25.72)" d="M-2.3,-7.9 L0.1,-9.0 L0.1,-0.5 M-2.6,-0.5 L2.8,-0.5"/><path transform="translate(43.00,25.72)" d="M1.2,-0.5 L1.2,-9.0 L0.7,-9.0 L-2.7,-3.2 L2.8,-3.2 M-0.4,-0.5 L2.7,-0.5"/>
<path transform="translate(6.72,57.30)" d="M0,-9.1 C1.5,-9.1 2.2,-7.0 2.2,-4.8 C2.2,-2.6 1.5,-0.5 0,-0.5 C-1.5,-0.5 -2.2,-2.6 -2.2,-4.8 C-2.2,-7.0 -1.5,-9.1 0,-9.1 Z"/><circle cx="15.79" cy="56.30" r="1.05" fill="#111" stroke="none"/><path transform="translate(24.86,57.30)" d="M0,-9.1 C1.5,-9.1 2.2,-7.0 2.2,-4.8 C2.2,-2.6 1.5,-0.5 0,-0.5 C-1.5,-0.5 -2.2,-2.6 -2.2,-4.8 C-2.2,-7.0 -1.5,-9.1 0,-9.1 Z"/><path transform="translate(33.93,57.30)" d="M-2.3,-7.9 L0.1,-9.0 L0.1,-0.5 M-2.6,-0.5 L2.8,-0.5"/><path transform="translate(43.00,57.30)" d="M-2.4,-6.7 C-2.4,-8.1 -1.4,-9.1 0,-9.1 C1.4,-9.1 2.3,-8.1 2.3,-6.8 C2.3,-5.6 1.5,-4.8 0.3,-3.7 L-2.6,-0.9 L-2.6,-0.5 L2.7,-0.5 L2.7,-1.4"/>
<path transform="translate(15.79,88.88)" d="M0,-9.1 C1.5,-9.1 2.2,-7.0 2.2,-4.8 C2.2,-2.6 1.5,-0.5 0,-0.5 C-1.5,-0.5 -2.2,-2.6 -2.2,-4.8 C-2.2,-7.0 -1.5,-9.1 0,-9.1 Z"/><circle cx="24.86" cy="87.88" r="1.05" fill="#111" stroke="none"/><path transform="translate(33.93,88.88)" d="M0,-9.1 C1.5,-9.1 2.2,-7.0 2.2,-4.8 C2.2,-2.6 1.5,-0.5 0,-0.5 C-1.5,-0.5 -2.2,-2.6 -2.2,-4.8 C-2.2,-7.0 -1.5,-9.1 0,-9.1 Z"/><path transform="translate(43.00,88.88)" d="M-2.3,-7.9 L0.1,-9.0 L0.1,-0.5 M-2.6,-0.5 L2.8,-0.5"/>
<path transform="translate(6.72,120.46)" d="M0,-9.1 C1.5,-9.1 2.2,-7.0 2.2,-4.8 C2.2,-2.6 1.5,-0.5 0,-0.5 C-1.5,-0.5 -2.2,-2.6 -2.2,-4.8 C-2.2,-7.0 -1.5,-9.1 0,-9.1 Z"/><circle cx="15.79" cy="119.46" r="1.05" fill="#111" stroke="none"/><path transform="translate(24.86,120.46)" d="M0,-9.1 C1.5,-9.1 2.2,-7.0 2.2,-4.8 C2.2,-2.6 1.5,-0.5 0,-0.5 C-1.5,-0.5 -2.2,-2.6 -2.2,-4.8 C-2.2,-7.0 -1.5,-9.1 0,-9.1 Z"/><path transform="translate(33.93,120.46)" d="M0,-9.1 C1.5,-9.1 2.2,-7.0 2.2,-4.8 C2.2,-2.6 1.5,-0.5 0,-0.5 C-1.5,-0.5 -2.2,-2.6 -2.2,-4.8 C-2.2,-7.0 -1.5,-9.1 0,-9.1 Z"/><path transform="translate(43.00,120.46)" d="M0,-9.100000000000001 C1.05,-9.100000000000001 1.9,-8.12 1.9,-6.9 C1.9,-5.68 1.05,-4.7 0,-4.7 C-1.05,-4.7 -1.9,-5.68 -1.9,-6.9 C-1.9,-8.12 -1.05,-9.100000000000001 0,-9.100000000000001 Z M0,-4.7 C1.33,-4.7 2.4,-3.76 2.4,-2.6 C2.4,-1.44 1.33,-0.5 0,-0.5 C-1.33,-0.5 -2.4,-1.44 -2.4,-2.6 C-2.4,-3.76 -1.33,-4.7 0,-4.7 Z"/>
<path transform="translate(6.72,152.04)" d="M0,-9.1 C1.5,-9.1 2.2,-7.0 2.2,-4.8 C2.2,-2.6 1.5,-0.5 0,-0.5 C-1.5,-0.5 -2.2,-2.6 -2.2,-4.8 C-2.2,-7.0 -1.5,-9.1 0,-9.1 Z"/><circle cx="15.79" cy="151.04" r="1.05" fill="#111" stroke="none"/><path transform="translate(24.86,152.04)" d="M0,-9.1 C1.5,-9.1 2.2,-7.0 2.2,-4.8 C2.2,-2.6 1.5,-0.5 0,-0.5 C-1.5,-0.5 -2.2,-2.6 -2.2,-4.8 C-2.2,-7.0 -1.5,-9.1 0,-9.1 Z"/><path transform="translate(33.93,152.04)" d="M0,-9.1 C1.5,-9.1 2.2,-7.0 2.2,-4.8 C2.2,-2.6 1.5,-0.5 0,-0.5 C-1.5,-0.5 -2.2,-2.6 -2.2,-4.8 C-2.2,-7.0 -1.5,-9.1 0,-9.1 Z"/><path transform="translate(43.00,152.04)" d="M2.2,-8.9 C0,-8.9 -2.3,-6.8 -2.3,-3.4 C-2.3,-1.5 -1.3,-0.5 0.1,-0.5 C1.5,-0.5 2.5,-1.6 2.5,-3.0 C2.5,-4.4 1.6,-5.4 0.3,-5.4 C-0.9,-5.4 -1.9,-4.6 -2.3,-3.4"/>
<path transform="translate(6.72,183.62)" d="M0,-9.1 C1.5,-9.1 2.2,-7.0 2.2,-4.8 C2.2,-2.6 1.5,-0.5 0,-0.5 C-1.5,-0.5 -2.2,-2.6 -2.2,-4.8 C-2.2,-7.0 -1.5,-9.1 0,-9.1 Z"/><circle cx="15.79" cy="182.62" r="1.05" fill="#111" stroke="none"/><path transform="translate(24.86,183.62)" d="M0,-9.1 C1.5,-9.1 2.2,-7.0 2.2,-4.8 C2.2,-2.6 1.5,-0.5 0,-0.5 C-1.5,-0.5 -2.2,-2.6 -2.2,-4.8 C-2.2,-7.0 -1.5,-9.1 0,-9.1 Z"/><path transform="translate(33.93,183.62)" d="M0,-9.1 C1.5,-9.1 2.2,-7.0 2.2,-4.8 C2.2,-2.6 1.5,-0.5 0,-0.5 C-1.5,-0.5 -2.2,-2.6 -2.2,-4.8 C-2.2,-7.0 -1.5,-9.1 0,-9.1 Z"/><path transform="translate(43.00,183.62)" d="M1.2,-0.5 L1.2,-9.0 L0.7,-9.0 L-2.7,-3.2 L2.8,-3.2 M-0.4,-0.5 L2.7,-0.5"/>
<path transform="translate(6.72,215.20)" d="M0,-9.1 C1.5,-9.1 2.2,-7.0 2.2,-4.8 C2.2,-2.6 1.5,-0.5 0,-0.5 C-1.5,-0.5 -2.2,-2.6 -2.2,-4.8 C-2.2,-7.0 -1.5,-9.1 0,-9.1 Z"/><circle cx="15.79" cy="214.20" r="1.05" fill="#111" stroke="none"/><path transform="translate(24.86,215.20)" d="M0,-9.1 C1.5,-9.1 2.2,-7.0 2.2,-4.8 C2.2,-2.6 1.5,-0.5 0,-0.5 C-1.5,-0.5 -2.2,-2.6 -2.2,-4.8 C-2.2,-7.0 -1.5,-9.1 0,-9.1 Z"/><path transform="translate(33.93,215.20)" d="M0,-9.1 C1.5,-9.1 2.2,-7.0 2.2,-4.8 C2.2,-2.6 1.5,-0.5 0,-0.5 C-1.5,-0.5 -2.2,-2.6 -2.2,-4.8 C-2.2,-7.0 -1.5,-9.1 0,-9.1 Z"/><path transform="translate(43.00,215.20)" d="M-2.4,-6.7 C-2.4,-8.1 -1.4,-9.1 0,-9.1 C1.4,-9.1 2.3,-8.1 2.3,-6.8 C2.3,-5.6 1.5,-4.8 0.3,-3.7 L-2.6,-0.9 L-2.6,-0.5 L2.7,-0.5 L2.7,-1.4"/>
</g>
<path fill="#ff0000" fill-rule="evenodd" d="M73.20,45.00 L79.55,30.90 L80.75,30.90 L86.90,45.00 Z M74.45,43.85 L84.35,43.85 L79.30,33.45 Z"/><text x="87.80" y="37.40" style="font-family:'Liberation Serif',serif;font-size:13.8px" fill="#ff0000">V</text><text x="87.50" y="49.70" style="font-family:'Liberation Serif',serif;font-size:15.3px" fill="#ff0000">1</text>
<path fill="#0000ff" fill-rule="evenodd" d="M55.20,216.10 L61.55,202.00 L62.75,202.00 L68.90,216.10 Z M56.45,214.95 L66.35,214.95 L61.30,204.55 Z"/><text x="69.80" y="208.50" style="font-family:'Liberation Serif',serif;font-size:13.8px" fill="#0000ff">V</text><text x="69.50" y="220.80" style="font-family:'Liberation Serif',serif;font-size:15.3px" fill="#0000ff">2</text>
<path fill="#0000ff" fill-rule="evenodd" d="M84.80,211.90 L91.15,197.80 L92.35,197.80 L98.50,211.90 Z M86.05,210.75 L95.95,210.75 L90.90,200.35 Z"/><text x="99.40" y="204.30" style="font-family:'Liberation Serif',serif;font-size:13.8px" fill="#0000ff">V</text><text x="99.10" y="216.60" style="font-family:'Liberation Serif',serif;font-size:15.3px" fill="#0000ff">3</text>
<path fill="#0000ff" fill-rule="evenodd" d="M114.30,206.40 L120.65,192.30 L121.85,192.30 L128.00,206.40 Z M115.55,205.25 L125.45,205.25 L120.40,194.85 Z"/><text x="128.90" y="198.80" style="font-family:'Liberation Serif',serif;font-size:13.8px" fill="#0000ff">V</text><text x="128.60" y="211.10" style="font-family:'Liberation Serif',serif;font-size:15.3px" fill="#0000ff">4</text>
<g fill="#1a1a1a">
<text x="342.3" y="213.6" style="font-family:'Liberation Serif',serif;font-size:20px;font-style:italic">Q</text>
<text x="357.6" y="206.6" style="font-family:'Liberation Serif',serif;font-size:13.8px">2</text>
<text x="376.6" y="213.6" style="font-family:'Liberation Serif',serif;font-size:20px" textLength="36.3" lengthAdjust="spacingAndGlyphs">GeV</text>
<text x="411.5" y="205.3" style="font-family:'Liberation Serif',serif;font-size:13.8px">2</text>
</g>
<g fill="none" stroke="#1a1a1a" stroke-width="0.85">
<path d="M376.3,199.4 L373.9,199.4 L373.9,217.9 L376.3,217.9"/>
<path d="M418.8,199.0 L421.3,199.0 L421.3,217.9 L418.8,217.9"/>
</g>
</svg>
</body></html>
